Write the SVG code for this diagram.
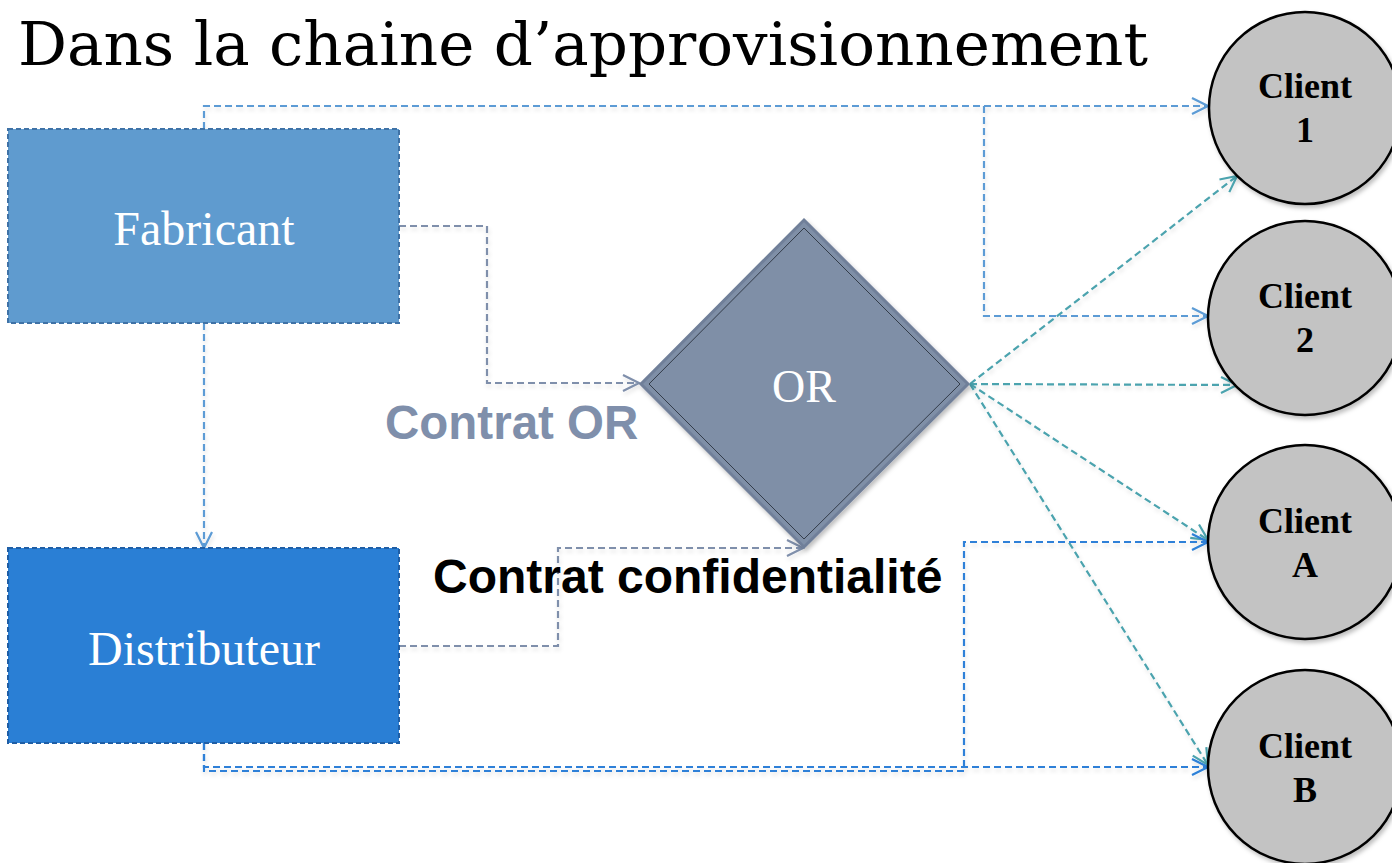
<svg xmlns="http://www.w3.org/2000/svg" width="1392" height="863" viewBox="0 0 1392 863">
<style>
.title{font-family:"DejaVu Serif","Liberation Serif",serif;font-size:60px;fill:#000}
.boxtxt{font-family:"Liberation Serif","Times New Roman",serif;font-size:48px;fill:#fff;text-anchor:middle}
.ctxt{font-family:"Liberation Serif","Times New Roman",serif;font-size:36px;font-weight:bold;fill:#000;text-anchor:middle}
.lbl{font-family:"Liberation Sans",Arial,sans-serif;font-size:47.5px;font-weight:bold}
.client{fill:#c3c3c3;stroke:#000;stroke-width:2.5}
.conn{fill:none;stroke-width:2.2;stroke-dasharray:7 4}
.blue{stroke:#5b9bd5}
.slate{stroke:#7f8fab}
.teal{stroke:#4ba3ae}
.dblue{stroke:#2e80d8}
</style>
<defs>
<filter id="sh" x="-10%" y="-10%" width="130%" height="130%">
<feDropShadow dx="2" dy="3" stdDeviation="2" flood-color="#000" flood-opacity="0.25"/>
</filter>
<filter id="lsh" x="-5%" y="-5%" width="110%" height="110%">
<feDropShadow dx="1" dy="3" stdDeviation="2" flood-color="#000" flood-opacity="0.12"/>
</filter>
<marker id="aBlue" viewBox="0 0 20 20" refX="18" refY="10" markerWidth="20" markerHeight="20" markerUnits="userSpaceOnUse" orient="auto"><path d="M2,2 L18,10 L2,18" fill="none" stroke="#5b9bd5" stroke-width="2.2"/></marker>
<marker id="aSlate" viewBox="0 0 20 20" refX="18" refY="10" markerWidth="20" markerHeight="20" markerUnits="userSpaceOnUse" orient="auto"><path d="M2,2 L18,10 L2,18" fill="none" stroke="#7f8fab" stroke-width="2.2"/></marker>
<marker id="aTeal" viewBox="0 0 20 20" refX="18" refY="10" markerWidth="20" markerHeight="20" markerUnits="userSpaceOnUse" orient="auto"><path d="M2,2 L18,10 L2,18" fill="none" stroke="#4ba3ae" stroke-width="2.2"/></marker>
<marker id="aDblue" viewBox="0 0 20 20" refX="18" refY="10" markerWidth="20" markerHeight="20" markerUnits="userSpaceOnUse" orient="auto"><path d="M2,2 L18,10 L2,18" fill="none" stroke="#2e80d8" stroke-width="2.2"/></marker>
</defs>
<rect width="1392" height="863" fill="#fff"/>
<text class="title" x="18" y="65" textLength="1130" lengthAdjust="spacingAndGlyphs">Dans la chaine d’approvisionnement</text>

<g id="connectors" filter="url(#lsh)">
<path class="conn blue" d="M204,129 V106 H1208" marker-end="url(#aBlue)"/>
<path class="conn blue" d="M984,106 V316 H1208" marker-end="url(#aBlue)"/>
<path class="conn blue" d="M204,323 V548" marker-end="url(#aBlue)"/>
<path class="conn slate" d="M399,226 H487 V383 H639" marker-end="url(#aSlate)"/>
<path class="conn slate" d="M399,646 H558 V548 H803" marker-end="url(#aSlate)"/>
<path class="conn teal" d="M970,384 L1237,176" marker-end="url(#aTeal)"/>
<path class="conn teal" d="M970,384 L1237,385" marker-end="url(#aTeal)"/>
<path class="conn teal" d="M970,384 L1208,540" marker-end="url(#aTeal)"/>
<path class="conn teal" d="M970,384 L1208,765" marker-end="url(#aTeal)"/>
<path class="conn dblue" d="M204,743 V771 H964 V542 H1208" marker-end="url(#aDblue)"/>
<path class="conn dblue" d="M204,743 V767 H1208" marker-end="url(#aDblue)"/>
</g>

<g id="fabricant">
<rect x="8" y="129" width="391" height="194" fill="#5f9bcf" stroke="#3f72a6" stroke-width="2" stroke-dasharray="5 3"/>
<text class="boxtxt" x="204" y="245">Fabricant</text>
</g>

<g id="distributeur">
<rect x="8" y="548" width="391" height="195" fill="#2a7fd5" stroke="#1f5ea5" stroke-width="2" stroke-dasharray="5 3"/>
<text class="boxtxt" x="204" y="665">Distributeur</text>
</g>

<g id="or">
<polygon points="804,220 968,384 804,547 641,384" fill="#7f8fa7" stroke="#6f7f99" stroke-width="3" filter="url(#sh)"/>
<polygon points="804,228 960,384 804,539 649,384" fill="none" stroke="#2b3340" stroke-width="0.9"/>
<text class="boxtxt" x="804" y="402" style="font-size:46px">OR</text>
</g>

<text class="lbl" x="385" y="439" fill="#7f8fab">Contrat OR</text>
<text class="lbl" x="433" y="593" fill="#000" style="font-size:48px">Contrat confidentialité</text>

<g id="client1">
<circle class="client" cx="1305" cy="108" r="96" filter="url(#sh)"/>
<text class="ctxt" x="1305" y="98">Client</text>
<text class="ctxt" x="1305" y="142">1</text>
</g>
<g id="client2">
<circle class="client" cx="1305" cy="318" r="97" filter="url(#sh)"/>
<text class="ctxt" x="1305" y="308">Client</text>
<text class="ctxt" x="1305" y="352">2</text>
</g>
<g id="clientA">
<circle class="client" cx="1305" cy="542" r="97" filter="url(#sh)"/>
<text class="ctxt" x="1305" y="533">Client</text>
<text class="ctxt" x="1305" y="577">A</text>
</g>
<g id="clientB">
<circle class="client" cx="1305" cy="767" r="97" filter="url(#sh)"/>
<text class="ctxt" x="1305" y="758">Client</text>
<text class="ctxt" x="1305" y="802">B</text>
</g>
</svg>
